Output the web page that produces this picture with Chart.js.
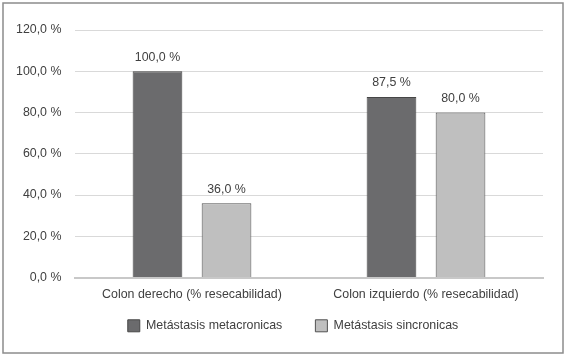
<!DOCTYPE html>
<html>
<head>
<meta charset="utf-8">
<script src="https://cdn.jsdelivr.net/npm/chart.js@4/dist/chart.umd.min.js"></script>
<style>
  html, body { margin: 0; padding: 0; background: #fff; }
  #wrap { width: 567px; height: 357px; }
</style>
</head>
<body>
<div id="wrap"><canvas id="resecChart"></canvas></div>
<script>
const categories = ['Colon derecho (% resecabilidad)', 'Colon izquierdo (% resecabilidad)'];
const metacronicas = [100.0, 87.5];
const sincronicas = [36.0, 80.0];
const seriesNames = ['Metástasis metacronicas', 'Metástasis sincronicas'];

const pct = v => v.toFixed(1).replace('.', ',') + ' %';

// white background + outer grey frame
const framePlugin = {
  id: 'frame',
  beforeDraw(chart) {
    const ctx = chart.ctx;
    ctx.save();
    ctx.fillStyle = '#ffffff';
    ctx.fillRect(0, 0, chart.width, chart.height);
    ctx.strokeStyle = '#8c8c8c';
    ctx.lineWidth = 1.5;
    ctx.strokeRect(3, 3, 560, 350);
    ctx.restore();
  }
};

// value labels above each bar
const valueLabels = {
  id: 'valueLabels',
  afterDatasetsDraw(chart) {
    const ctx = chart.ctx;
    ctx.save();
    ctx.font = '12.4px "Liberation Sans", Arial, sans-serif';
    ctx.fillStyle = '#404040';
    ctx.textAlign = 'center';
    ctx.textBaseline = 'middle';
    chart.data.datasets.forEach((ds, i) => {
      chart.getDatasetMeta(i).data.forEach((bar, j) => {
        ctx.fillText(pct(ds.data[j]), bar.x, bar.y - 14);
      });
    });
    ctx.restore();
  }
};

Chart.defaults.font.family = '"Liberation Sans", Arial, sans-serif';
Chart.defaults.font.size = 12.4;
Chart.defaults.color = '#404040';

new Chart(document.getElementById('resecChart'), {
  type: 'bar',
  data: {
    labels: categories,
    datasets: [
      {
        label: seriesNames[0],
        data: metacronicas,
        backgroundColor: '#6b6b6d',
        borderColor: '#464646',
        borderWidth: 1,
      },
      {
        label: seriesNames[1],
        data: sincronicas,
        backgroundColor: '#bfbfbf',
        borderColor: '#505050',
        borderWidth: 1,
      },
    ],
  },
  options: {
    responsive: true,
    maintainAspectRatio: false,
    animation: false,
    datasets: {
      bar: { categoryPercentage: 0.59, barPercentage: 0.72 }
    },
    layout: { padding: { left: 43, right: 24, top: 30, bottom: 15 } },
    scales: {
      x: {
        grid: { display: false, drawTicks: false },
        border: { display: true, color: '#c8c8c8', width: 2 },
        ticks: { padding: 10, color: '#404040' },
        afterFit(scale) { scale.height = 30; }
      },
      y: {
        min: 0,
        max: 120,
        ticks: {
          stepSize: 20, mirror: true, crossAlign: 'far', padding: -59,
          callback: v => pct(v), color: '#404040'
        },
        grid: { color: '#d9d9d9', drawTicks: false },
        border: { display: false },
        afterFit(scale) { scale.width = 32; }
      },
    },
    plugins: {
      legend: {
        position: 'bottom',
        labels: {
          boxWidth: 12, boxHeight: 12, padding: 12, color: '#404040',
          generateLabels(chart) {
            const items = Chart.defaults.plugins.legend.labels.generateLabels(chart);
            // wider gap after the first item, as in the original
            items[0].text = items[0].text + '\u2003\u2002\u2009';
            return items;
          }
        }
      },
      tooltip: { enabled: false },
    },
  },
  plugins: [framePlugin, valueLabels],
});
</script>
</body>
</html>
